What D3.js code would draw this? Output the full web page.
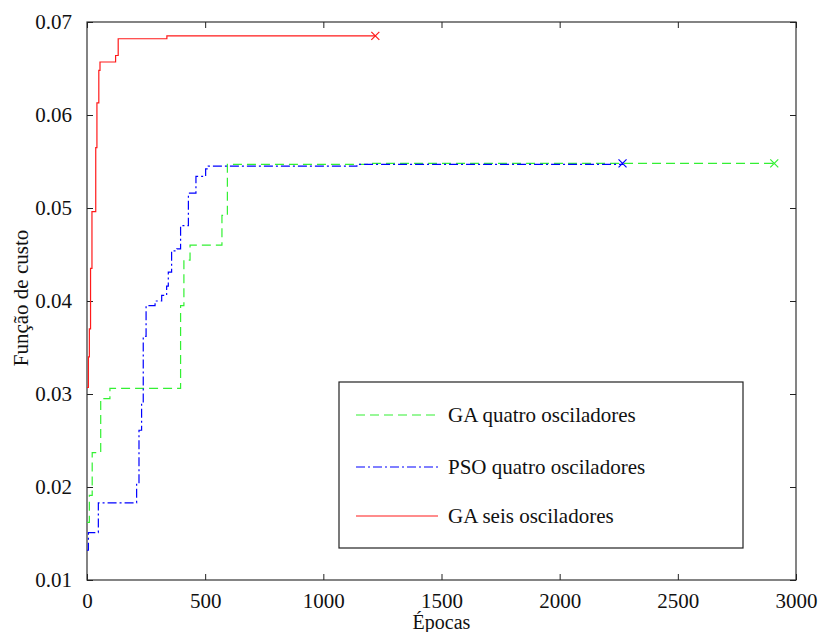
<!DOCTYPE html>
<html>
<head>
<meta charset="utf-8">
<script src="https://cdn.jsdelivr.net/npm/d3@7"></script>
<style>
  body { margin: 0; background: #fff; }
  svg text { font-family: "Liberation Serif", "DejaVu Serif", serif; fill: #111; }
</style>
</head>
<body>
<svg width="819" height="632"></svg>
<script>
var svg = d3.select('svg');

// data
var xTicks = [0, 500, 1000, 1500, 2000, 2500, 3000];
var yTicks = [0.01, 0.02, 0.03, 0.04, 0.05, 0.06, 0.07];

var gaQuatroEpocas = [0, 10, 22, 58, 97, 396, 410, 436, 571, 594, 1200, 2908];
var gaQuatroCusto = [0.0162, 0.0191, 0.0237, 0.0295, 0.0306, 0.0395, 0.0444, 0.0460, 0.0492, 0.0547, 0.0548, 0.0548];

var psoEpocas = [0, 6, 48, 210, 220, 231, 238, 250, 288, 316, 337, 344, 358, 380, 396, 429, 461, 502, 513, 1142, 2266];
var psoCusto = [0.0132, 0.0151, 0.0183, 0.0204, 0.0261, 0.0290, 0.0362, 0.0395, 0.0400, 0.0406, 0.0416, 0.0431, 0.0454, 0.0456, 0.0481, 0.0516, 0.0534, 0.0542, 0.0545, 0.0547, 0.0548];

var gaSeisEpocas = [0, 6, 10, 15, 21, 37, 42, 50, 55, 121, 132, 338, 1220];
var gaSeisCusto = [0.0307, 0.0340, 0.0370, 0.0435, 0.0496, 0.0565, 0.0613, 0.0648, 0.0657, 0.0664, 0.0682, 0.0685, 0.0685];

var seriesNames = ['GA quatro osciladores', 'PSO quatro osciladores', 'GA seis osciladores'];

var series = [
    {name: seriesNames[0], x: gaQuatroEpocas, y: gaQuatroCusto, color: '#33f033', dash: '9,5'},
    {name: seriesNames[1], x: psoEpocas, y: psoCusto, color: '#0000ff', dash: '9,3,2,3'},
    {name: seriesNames[2], x: gaSeisEpocas, y: gaSeisCusto, color: '#ff1a1a', dash: null}
];

var plot = {l: 87, r: 796, t: 22, b: 580};

var xScale = d3.scaleLinear().domain([0, 3000]).range([plot.l, plot.r]);
var yScale = d3.scaleLinear().domain([0.01, 0.07]).range([plot.b, plot.t]);

// frame
svg.append('rect')
    .attr('x', plot.l).attr('y', plot.t)
    .attr('width', plot.r - plot.l).attr('height', plot.b - plot.t)
    .style('fill', 'none').style('stroke', '#333').style('stroke-width', 1.2);

var tickLen = 6;

// axes with inner ticks on all four sides
var xBottom = svg.append('g')
    .attr('transform', 'translate(0,' + plot.b + ')')
    .call(d3.axisBottom(xScale).tickValues(xTicks).tickSizeInner(-tickLen).tickSizeOuter(0).tickPadding(13).tickFormat(d3.format('d')));
var xTop = svg.append('g')
    .attr('transform', 'translate(0,' + plot.t + ')')
    .call(d3.axisTop(xScale).tickValues(xTicks).tickSizeInner(-tickLen).tickSizeOuter(0).tickFormat(''));
var yLeft = svg.append('g')
    .attr('transform', 'translate(' + plot.l + ',0)')
    .call(d3.axisLeft(yScale).tickValues(yTicks).tickSizeInner(-tickLen).tickSizeOuter(0).tickPadding(15).tickFormat(d3.format('.2f')));
var yRight = svg.append('g')
    .attr('transform', 'translate(' + plot.r + ',0)')
    .call(d3.axisRight(yScale).tickValues(yTicks).tickSizeInner(-tickLen).tickSizeOuter(0).tickFormat(''));

[xBottom, xTop, yLeft, yRight].forEach(function(g) {
    g.select('.domain').remove();
    g.selectAll('.tick line').style('stroke', '#222');
    g.selectAll('text')
        .style('font-family', '"Liberation Serif", serif')
        .style('font-size', '21px')
        .style('fill', '#111');
});

// lines
var line = d3.line()
    .x(function(d) { return xScale(d[0]); })
    .y(function(d) { return yScale(d[1]); })
    .curve(d3.curveStepAfter);

series.forEach(function(s) {
    var pts = s.x.map(function(v, i) { return [v, s.y[i]]; });
    svg.append('path')
        .datum(pts)
        .attr('d', line)
        .style('fill', 'none')
        .style('stroke', s.color)
        .style('stroke-width', 1.2)
        .style('stroke-dasharray', s.dash);

    var last = pts[pts.length - 1];
    var cx = xScale(last[0]), cy = yScale(last[1]), m = 4;
    svg.append('path')
        .attr('d', 'M' + (cx - m) + ',' + (cy - m) + 'L' + (cx + m) + ',' + (cy + m) +
                   'M' + (cx - m) + ',' + (cy + m) + 'L' + (cx + m) + ',' + (cy - m))
        .style('stroke', s.color)
        .style('stroke-width', 1.2);
});

// axis labels
svg.append('text')
    .attr('x', (plot.l + plot.r) / 2)
    .attr('y', 629)
    .attr('text-anchor', 'middle')
    .style('font-size', '20px')
    .text('Épocas');

svg.append('text')
    .attr('transform', 'translate(28,298) rotate(-90)')
    .attr('text-anchor', 'middle')
    .style('font-size', '21px')
    .text('Função de custo');

// legend
var legend = svg.append('g').attr('transform', 'translate(339,382)');
legend.append('rect')
    .attr('width', 404).attr('height', 166)
    .style('fill', '#fff').style('stroke', '#222').style('stroke-width', 1.2);

var legendRows = legend.selectAll('.legend-row')
    .data(series)
    .enter()
    .append('g')
    .attr('class', 'legend-row')
    .attr('transform', function(d, i) { return 'translate(0,' + [33, 85, 134][i] + ')'; });

legendRows.append('line')
    .attr('x1', 17).attr('x2', 99)
    .style('stroke', function(d) { return d.color; })
    .style('stroke-width', 1.2)
    .style('stroke-dasharray', function(d) { return d.dash; });

legendRows.append('text')
    .attr('x', 109)
    .attr('y', 7)
    .style('font-size', '21px')
    .text(function(d) { return d.name; });
</script>
</body>
</html>
